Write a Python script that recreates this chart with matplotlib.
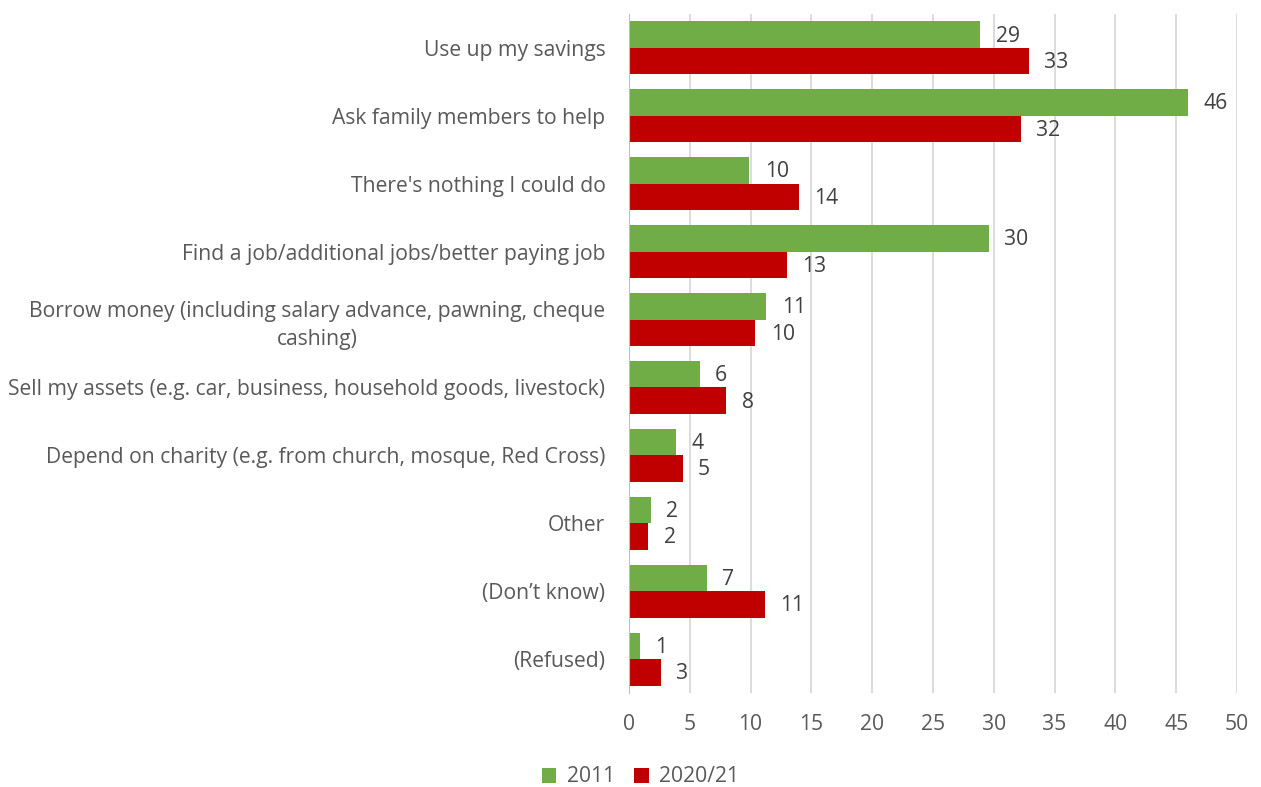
import matplotlib
matplotlib.use("Agg")
import matplotlib.pyplot as plt
import numpy as np

plt.rcParams['font.family'] = ['Open Sans', 'DejaVu Sans']

categories = [
    "Use up my savings",
    "Ask family members to help",
    "There's nothing I could do",
    "Find a job/additional jobs/better paying job",
    "Borrow money (including salary advance, pawning, cheque\ncashing)",
    "Sell my assets (e.g. car, business, household goods, livestock)",
    "Depend on charity (e.g. from church, mosque, Red Cross)",
    "Other",
    "(Don\u2019t know)",
    "(Refused)",
]
values_2011 = [28.9, 46.0, 9.9, 29.6, 11.3, 5.8, 3.9, 1.8, 6.4, 0.9]
values_2021 = [32.9, 32.2, 14.0, 13.0, 10.4, 8.0, 4.4, 1.6, 11.2, 2.6]
labels_2011 = [29, 46, 10, 30, 11, 6, 4, 2, 7, 1]
labels_2021 = [33, 32, 14, 13, 10, 8, 5, 2, 11, 3]
series_names = ["2011", "2020/21"]

green = "#70AD47"
red = "#C00000"
text_col = "#595959"
fs = 15.2

fig = plt.figure(figsize=(12.61, 7.87), dpi=100)
ax = fig.add_axes([629/1261, 1-693/787, (1237-629)/1261, (693-14)/787])

n = len(categories)
y = np.arange(n)
h = 0.39
ax.barh(y - h/2, values_2011, height=h, color=green, label=series_names[0], zorder=3)
ax.barh(y + h/2, values_2021, height=h, color=red, label=series_names[1], zorder=3)

for i in range(n):
    ax.annotate(str(labels_2011[i]), (values_2011[i], y[i] - h/2), xytext=(11, -1),
                textcoords='offset points', va='center', ha='left', fontsize=fs, color="#404040")
    ax.annotate(str(labels_2021[i]), (values_2021[i], y[i] + h/2), xytext=(11, -1),
                textcoords='offset points', va='center', ha='left', fontsize=fs, color="#404040")

ax.set_ylim(n - 0.5, -0.5)
ax.set_xlim(0, 50)
ax.set_xticks(np.arange(0, 51, 5))
ax.set_yticks(y)
ax.set_yticklabels(categories, multialignment='center', linespacing=1.45)
ax.tick_params(axis='both', length=0, labelsize=fs, colors=text_col)
ax.tick_params(axis='y', pad=17)
ax.tick_params(axis='x', pad=15)
ax.grid(axis='x', color='#D9D9D9', linewidth=1.3, zorder=0)
for s in ['top', 'right', 'bottom']:
    ax.spines[s].set_visible(False)
ax.spines['left'].set_color('#BFBFBF')
ax.spines['left'].set_zorder(4)

leg = fig.legend(loc='center', bbox_to_anchor=(0.508, 1-777/787), ncol=2, frameon=False,
                 fontsize=fs, handlelength=0.7, handleheight=0.7, columnspacing=0.9,
                 handletextpad=0.5)
for t in leg.get_texts():
    t.set_color(text_col)

fig.savefig("out.png", dpi=100)
